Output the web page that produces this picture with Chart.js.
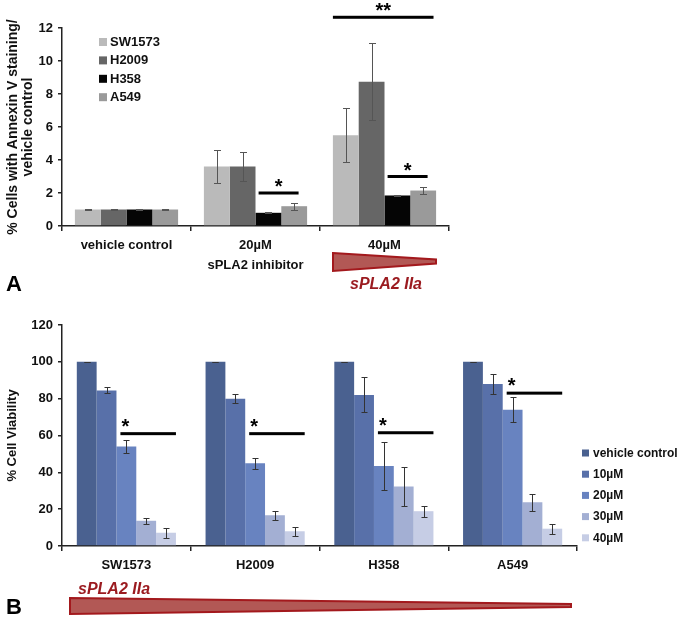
<!DOCTYPE html>
<html><head><meta charset="utf-8">
<script src="https://cdn.jsdelivr.net/npm/chart.js@4/dist/chart.umd.min.js"></script>
<style>
html,body{margin:0;padding:0;background:#fff;width:682px;height:622px;overflow:hidden}
#wa{position:absolute;left:0;top:0;width:682px;height:300px}
#wb{position:absolute;left:0;top:300px;width:682px;height:322px}
</style></head><body>
<div id="wa"><canvas id="ca"></canvas></div>
<div id="wb"><canvas id="cb"></canvas></div>
<script>
const FONT = '"Liberation Sans", Arial, Helvetica, sans-serif';

// ---------- Panel A data ----------
const annexinCategories = ['vehicle control', ['20µM', 'sPLA2 inhibitor'], '40µM'];
const annexinSeries = ['SW1573', 'H2009', 'H358', 'A549'];
const sw1573Annexin = [1.0, 3.6, 5.5];
const sw1573AnnexinErr = [0.02, 1.0, 1.65];
const h2009Annexin = [1.0, 3.6, 8.75];
const h2009AnnexinErr = [0.02, 0.9, 2.35];
const h358Annexin = [1.0, 0.8, 1.85];
const h358AnnexinErr = [0.02, 0.03, 0.05];
const a549Annexin = [1.0, 1.2, 2.15];
const a549AnnexinErr = [0.02, 0.22, 0.22];
const annexinTicks = [0, 2, 4, 6, 8, 10, 12];
// significance: category index, first/last series index, level, mark
const annexinSignif = [
  {cat: 1, from: 2, to: 3, level: 2.0, mark: '*'},
  {cat: 2, from: 2, to: 3, level: 3.0, mark: '*'},
  {cat: 2, from: 0, to: 3, level: 12.65, mark: '**'}
];

// ---------- Panel B data ----------
const viabilityCategories = ['SW1573', 'H2009', 'H358', 'A549'];
const viabilitySeries = ['vehicle control', '10µM', '20µM', '30µM', '40µM'];
const vehicleViability = [100, 100, 100, 100];
const vehicleViabilityErr = [0, 0, 0, 0];
const dose10Viability = [84.5, 80, 82, 88];
const dose10ViabilityErr = [1.6, 2.6, 9.5, 5.5];
const dose20Viability = [54, 45, 43.5, 74];
const dose20ViabilityErr = [3.5, 3, 13.2, 6.9];
const dose30Viability = [13.7, 16.7, 32.3, 23.7];
const dose30ViabilityErr = [1.7, 2.4, 10.7, 4.7];
const dose40Viability = [7.2, 8, 18.9, 9.4];
const dose40ViabilityErr = [2.8, 2.5, 2.9, 2.8];
const viabilityTicks = [0, 20, 40, 60, 80, 100, 120];
const viabilitySignif = [
  {cat: 0, from: 2, to: 4, level: 61, mark: '*'},
  {cat: 1, from: 2, to: 4, level: 61, mark: '*'},
  {cat: 2, from: 2, to: 4, level: 61.5, mark: '*'},
  {cat: 3, from: 2, to: 4, level: 83, mark: '*'}
];

const bold = (size, extra) => Object.assign({family: FONT, size: size, weight: 'bold'}, extra || {});

// ---------- plugins ----------
const errorBars = {
  id: 'errorBars',
  afterDatasetsDraw(chart, args, o) {
    const ctx = chart.ctx, y = chart.scales.y;
    ctx.save();
    ctx.strokeStyle = o.color; ctx.lineWidth = o.width;
    chart.data.datasets.forEach((ds, di) => {
      if (!ds.errors) return;
      chart.getDatasetMeta(di).data.forEach((bar, i) => {
        const v = ds.data[i], e = ds.errors[i];
        const yt = Math.round(y.getPixelForValue(v + e)) + 0.5;
        const yb = Math.round(y.getPixelForValue(Math.max(0, v - e))) + 0.5;
        const x = Math.round(bar.x) + 0.5;
        ctx.beginPath();
        ctx.moveTo(x, yt); ctx.lineTo(x, yb);
        ctx.moveTo(x - o.cap, yt); ctx.lineTo(x + o.cap, yt);
        ctx.moveTo(x - o.cap, yb); ctx.lineTo(x + o.cap, yb);
        ctx.stroke();
      });
    });
    ctx.restore();
  }
};

const signif = {
  id: 'signif',
  afterDraw(chart, args, o) {
    const ctx = chart.ctx, y = chart.scales.y;
    ctx.save();
    o.items.forEach(it => {
      const a = chart.getDatasetMeta(it.from).data[it.cat];
      const b = chart.getDatasetMeta(it.to).data[it.cat];
      const ins = o.insets[it.mark];
      const x1 = a.x - a.width / 2 + a.width * ins[0];
      const x2 = b.x + b.width / 2 - b.width * ins[1];
      const yy = y.getPixelForValue(it.level);
      ctx.fillStyle = '#000';
      ctx.fillRect(x1, yy - 1.5, x2 - x1, 3);
      ctx.font = 'bold 20px ' + FONT;
      ctx.textBaseline = 'alphabetic';
      let tx;
      if (o.starAt === 'start') { ctx.textAlign = 'left'; tx = x1 + 1; }
      else { ctx.textAlign = 'center'; tx = (x1 + x2) / 2; }
      ctx.fillText(it.mark, tx, yy + o.starShift);
    });
    ctx.restore();
  }
};

const decor = {
  id: 'decor',
  afterDraw(chart, args, o) {
    const ctx = chart.ctx;
    ctx.save();
    // legend
    const L = o.legend;
    ctx.font = 'bold ' + L.size + 'px ' + FONT;
    ctx.textBaseline = 'middle'; ctx.textAlign = 'left';
    chart.data.datasets.forEach((ds, i) => {
      const cy = L.y + i * L.gap;
      ctx.fillStyle = ds.backgroundColor;
      ctx.fillRect(L.x, cy - L.box / 2, L.box, L.box);
      ctx.fillStyle = '#111';
      ctx.fillText(ds.label, L.x + L.box + L.textGap, cy + 0.5);
    });
    // triangle
    const T = o.triangle;
    ctx.beginPath();
    ctx.moveTo(T.x1, T.top); ctx.lineTo(T.x2, T.tipY - T.tipH);
    ctx.lineTo(T.x2, T.tipY + T.tipH); ctx.lineTo(T.x1, T.bottom); ctx.closePath();
    ctx.fillStyle = 'rgba(170,70,66,0.9)';
    ctx.fill();
    ctx.strokeStyle = '#a3191d'; ctx.lineWidth = 2; ctx.stroke();
    // labels
    o.texts.forEach(t => {
      ctx.font = t.font; ctx.fillStyle = t.color;
      ctx.textAlign = t.align; ctx.textBaseline = 'middle';
      ctx.fillText(t.text, t.x, t.y);
    });
    ctx.restore();
  }
};

Chart.register(errorBars, signif, decor);

function axisCommon(extra) {
  return Object.assign({
    border: {color: '#222', width: 1.5},
  }, extra);
}

// ---------- Chart A ----------
const greys = ['#bababa', '#666666', '#050505', '#9a9a9a'];
const annexinData = [sw1573Annexin, h2009Annexin, h358Annexin, a549Annexin];
const annexinErr = [sw1573AnnexinErr, h2009AnnexinErr, h358AnnexinErr, a549AnnexinErr];

new Chart(document.getElementById('ca'), {
  type: 'bar',
  data: {
    labels: annexinCategories,
    datasets: annexinSeries.map((name, i) => ({
      label: name, data: annexinData[i], errors: annexinErr[i],
      backgroundColor: greys[i], borderWidth: 0,
      categoryPercentage: 0.8, barPercentage: 1.0
    }))
  },
  options: {
    responsive: true, maintainAspectRatio: false, animation: false,
    layout: {padding: {left: 0, right: 233, top: 28, bottom: 0}},
    plugins: {
      legend: {display: false}, tooltip: {enabled: false},
      errorBars: {color: '#555', width: 1, cap: 3.5},
      signif: {items: annexinSignif, starAt: 'center', starShift: 0, insets: {'*': [0.12, 0.33], '**': [0, 0.1]}},
      decor: {
        legend: {x: 99, y: 42, gap: 18.4, box: 8, textGap: 3, size: 13},
        triangle: {x1: 333, x2: 436, top: 253, bottom: 271, tipY: 261.5, tipH: 2},
        texts: [
          {text: 'sPLA2 IIa', x: 386, y: 285, align: 'center', color: '#9b1b20', font: 'italic bold 16px ' + FONT},
          {text: 'A', x: 6, y: 285, align: 'left', color: '#000', font: 'bold 22px ' + FONT}
        ]
      }
    },
    scales: {
      x: axisCommon({
        offset: true,
        grid: {offset: true, drawOnChartArea: false, drawTicks: true, tickLength: 5, color: '#222', lineWidth: 1.5},
        ticks: {font: bold(13, {lineHeight: 1.5}), color: '#111', padding: 5},
        afterFit(s) { s.height = 74; }
      }),
      y: axisCommon({
        min: 0, max: 12,
        afterBuildTicks(s) { s.ticks = annexinTicks.map(v => ({value: v})); },
        grid: {drawOnChartArea: false, drawTicks: true, tickLength: 4, color: '#222', lineWidth: 1.5},
        ticks: {font: bold(13), color: '#111', padding: 5},
        title: {display: true, text: ['% Cells with Annexin V staining/', 'vehicle control'],
                font: bold(14, {lineHeight: 1.1}), color: '#111', padding: {top: 5, bottom: 0}},
        afterFit(s) { s.width = 62; }
      })
    }
  }
});

// ---------- Chart B ----------
const blues = ['#4a6190', '#5870a9', '#6883c0', '#a3afd3', '#c6cde5'];
const viabilityData = [vehicleViability, dose10Viability, dose20Viability, dose30Viability, dose40Viability];
const viabilityErr = [vehicleViabilityErr, dose10ViabilityErr, dose20ViabilityErr, dose30ViabilityErr, dose40ViabilityErr];

new Chart(document.getElementById('cb'), {
  type: 'bar',
  data: {
    labels: viabilityCategories,
    datasets: viabilitySeries.map((name, i) => ({
      label: name, data: viabilityData[i], errors: viabilityErr[i],
      backgroundColor: blues[i], borderWidth: 0,
      categoryPercentage: 0.77, barPercentage: 1.0
    }))
  },
  options: {
    responsive: true, maintainAspectRatio: false, animation: false,
    layout: {padding: {left: 0, right: 105, top: 25, bottom: 0}},
    plugins: {
      legend: {display: false}, tooltip: {enabled: false},
      errorBars: {color: '#333', width: 1, cap: 3},
      signif: {items: viabilitySignif, starAt: 'start', starShift: -1, insets: {'*': [0.2, 0]}},
      decor: {
        legend: {x: 582, y: 153, gap: 21.2, box: 7, textGap: 4, size: 12},
        triangle: {x1: 70, x2: 571, top: 298, bottom: 314, tipY: 305.5, tipH: 1.5},
        texts: [
          {text: 'sPLA2 IIa', x: 78, y: 290, align: 'left', color: '#9b1b20', font: 'italic bold 16px ' + FONT},
          {text: 'B', x: 6, y: 308, align: 'left', color: '#000', font: 'bold 22px ' + FONT}
        ]
      }
    },
    scales: {
      x: axisCommon({
        offset: true,
        grid: {offset: true, drawOnChartArea: false, drawTicks: true, tickLength: 5, color: '#222', lineWidth: 1.5},
        ticks: {font: bold(13), color: '#111', padding: 7},
        afterFit(s) { s.height = 76; }
      }),
      y: axisCommon({
        min: 0, max: 120,
        afterBuildTicks(s) { s.ticks = viabilityTicks.map(v => ({value: v})); },
        grid: {drawOnChartArea: false, drawTicks: true, tickLength: 4, color: '#222', lineWidth: 1.5},
        ticks: {font: bold(13), color: '#111', padding: 5},
        title: {display: true, text: '% Cell Viability', font: bold(13), color: '#111', padding: {top: 5, bottom: 0}},
        afterFit(s) { s.width = 62; }
      })
    }
  }
});
</script>
</body></html>
